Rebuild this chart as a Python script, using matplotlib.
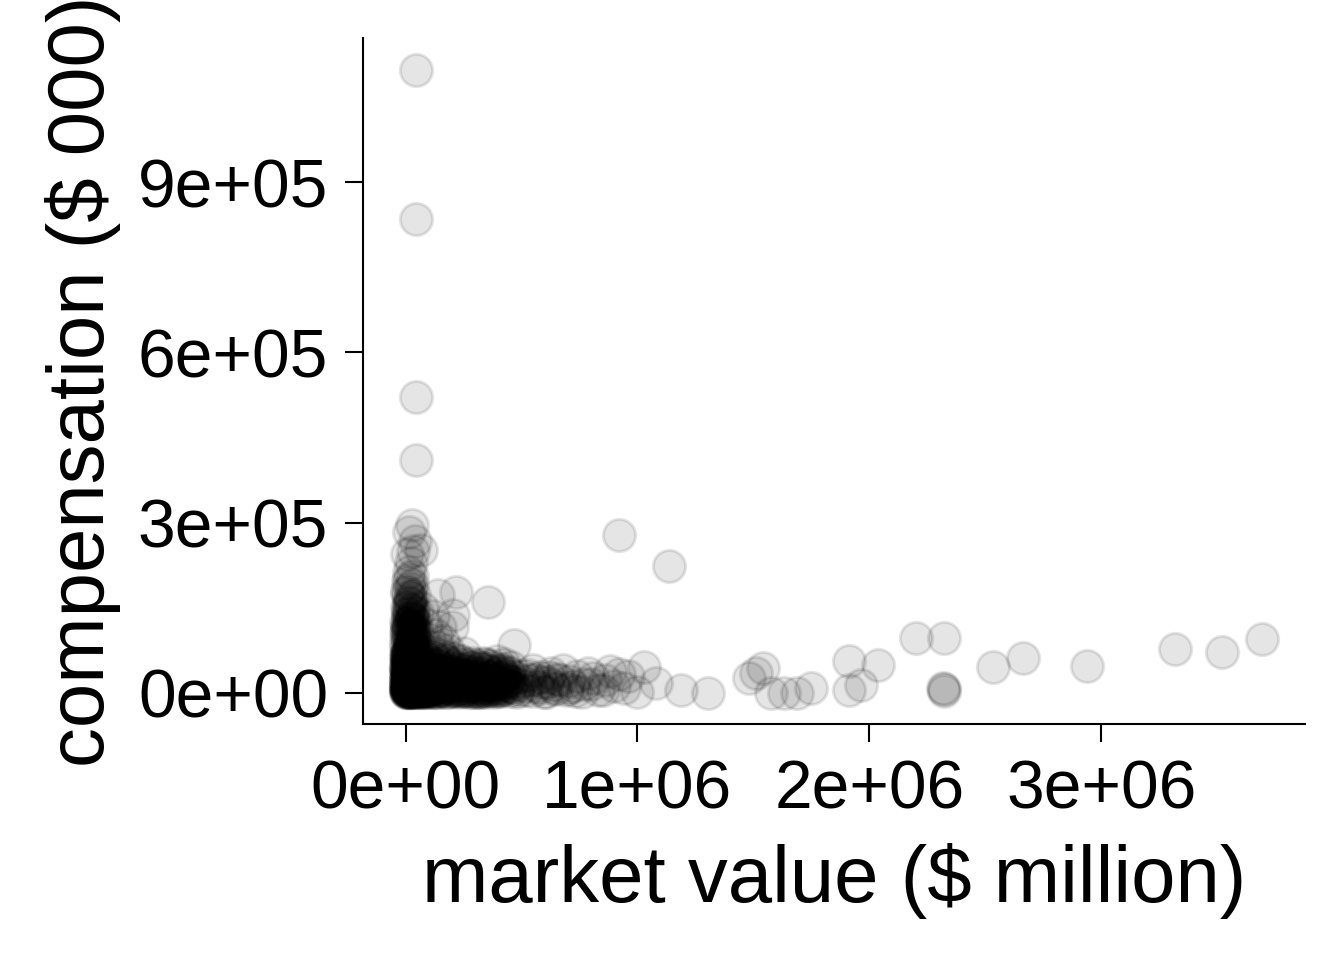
import matplotlib
matplotlib.use("Agg")
import matplotlib.pyplot as plt
from matplotlib.ticker import MultipleLocator, FuncFormatter

plt.rcParams['font.family'] = ['Liberation Sans', 'DejaVu Sans']

# market value ($ million), compensation ($ 000)
# dense core near the origin
mv_core = [2000, 5000, 8000, 12000, 3000, 15000, 20000, 25000, 6000, 10000,
           30000, 35000, 40000, 18000, 4000, 45000, 50000, 28000, 55000, 60000,
           9000, 22000, 65000, 70000, 38000, 75000, 14000, 80000, 48000, 85000,
           3000, 90000, 32000, 58000, 95000, 17000, 68000, 42000, 7000, 100000,
           1000, 4000, 11000, 16000, 7000, 23000, 2000, 27000, 13000, 33000,
           19000, 44000, 36000, 9000, 52000, 24000, 62000, 47000, 12000, 73000,
           29000, 5000, 57000, 82000, 39000, 21000, 66000, 88000, 51000, 26000,
           3500, 14000, 31000, 10000, 6000, 18000, 43000, 77000, 92000, 2500]
comp_core = [1500, 4000, 2500, 6000, 9000, 12000, 3000, 8000, 15000, 20000,
             14000, 5000, 18000, 25000, 28000, 9000, 22000, 30000, 4000, 15000,
             35000, 38000, 28000, 7000, 33000, 19000, 42000, 32000, 40000, 11000,
             48000, 25000, 45000, 36000, 38000, 52000, 44000, 55000, 58000, 6000,
             500, 2000, 1000, 3500, 7000, 1500, 12000, 17000, 9000, 2000,
             16000, 3000, 24000, 23000, 12000, 21000, 2500, 30000, 31000, 13000,
             27000, 38000, 20000, 4000, 10000, 46000, 35000, 17000, 48000, 34000,
             20000, 14000, 6500, 4500, 600, 8000, 26000, 24000, 31000, 64000]

mv_core2 = [1500, 6500, 11500, 16500, 21500, 26500, 31500, 36500, 41500, 46500,
            51500, 56500, 61500, 66500, 71500, 76500, 81500, 86500, 91500, 96500,
            4500, 9500, 14500, 19500, 24500, 29500, 34500, 39500, 44500, 49500,
            54500, 59500, 64500, 69500, 74500, 79500, 84500, 89500, 94500, 99500,
            104000, 112000, 121000, 129000, 137000, 146000, 2500, 7500, 12500, 17500,
            22500, 27500, 32500, 37500, 42500, 47500, 52500, 57500, 62500, 67500,
            72500, 77500, 82500, 87500, 97500, 107000, 117000, 127000, 1000, 3000,
            5500, 8500, 13500, 18500, 23500, 28500, 33500, 38500, 43500, 48500,
            53500, 58500, 63500, 68500, 73500, 78500, 83500, 88500, 93500, 98500,
            102000, 114000, 126000, 133000, 141000, 149000, 6000, 16000, 26000, 36000]
comp_core2 = [22000, 5000, 41000, 13000, 30000, 2000, 48000, 19000, 8000, 36000,
              26000, 1000, 44000, 15000, 33000, 6000, 21000, 40000, 11000, 28000,
              60000, 33000, 3000, 50000, 17000, 7000, 39000, 24000, 52000, 12000,
              35000, 4000, 23000, 46000, 10000, 29000, 2500, 37000, 18000, 5500,
              24000, 9000, 31000, 16000, 40000, 4000, 35000, 26000, 57000, 44000,
              9000, 53000, 32000, 3500, 41000, 20000, 6000, 46000, 14000, 25000,
              38000, 1500, 27000, 8000, 45000, 30000, 20000, 12000, 42000, 16000,
              3000, 51000, 27000, 12000, 5000, 43000, 19000, 9500, 34000, 1500,
              17000, 39000, 8500, 29000, 3000, 20000, 42000, 14000, 24000, 10000,
              36000, 2000, 21000, 9000, 28000, 12000, 69000, 58000, 62000, 56000]

mv_core3 = [3000, 9000, 15000, 21000, 27000, 33000, 39000, 45000, 51000, 57000,
            63000, 69000, 75000, 81000, 87000, 93000, 99000, 106000, 113000, 121000,
            128000, 136000, 143000, 151000, 158000, 166000, 173000, 181000, 188000, 196000,
            203000, 211000, 218000, 226000, 233000, 241000, 248000, 256000, 263000, 271000,
            278000, 286000, 293000, 301000, 308000, 316000, 323000, 331000, 338000, 346000,
            353000, 361000, 368000, 376000, 383000, 391000, 398000, 406000, 413000, 420000,
            1000, 7000, 13000, 19000, 25000, 31000, 37000, 43000, 49000, 55000,
            61000, 67000, 73000, 79000, 85000, 91000, 97000, 103000, 109000, 116000,
            124000, 132000, 140000, 148000, 156000, 164000, 172000, 190000, 208000, 226000,
            244000, 262000, 280000, 298000, 316000, 334000, 352000, 370000, 388000, 406000]
comp_core3 = [8000, 18000, 3000, 27000, 12000, 36000, 6000, 22000, 15000, 1000,
              31000, 10000, 40000, 4000, 25000, 14000, 33000, 7000, 20000, 2000,
              29000, 11000, 38000, 5000, 24000, 16000, 1500, 32000, 9000, 21000,
              3500, 27000, 13000, 35000, 6500, 18000, 2500, 30000, 10500, 23000,
              4500, 14500, 28000, 7500, 19000, 1000, 25000, 11000, 3000, 16000,
              22000, 6000, 29000, 12000, 2000, 18000, 8000, 24000, 4000, 13000,
              45000, 38000, 55000, 47000, 41000, 50000, 43000, 36000, 49000, 42000,
              3000, 7000, 1500, 5000, 2000, 6000, 1000, 4000, 2500, 8000,
              44000, 18000, 9000, 28000, 3000, 15000, 22000, 6000, 12000, 1500,
              20000, 5000, 16000, 2000, 9000, 21000, 4000, 14000, 7000, 2500]

mv_core4 = [500, 2500, 4500, 6500, 8500, 10500, 12500, 14500, 16500, 18500,
            20500, 22500, 24500, 26500, 28500, 30500, 32500, 34500, 36500, 38500,
            40500, 42500, 44500, 46500, 48500, 50500, 52500, 54500, 56500, 58500,
            1200, 3700, 6200, 8700, 11200, 13700, 16200, 18700, 21200, 23700,
            26200, 28700, 31200, 33700, 36200, 38700, 41200, 43700, 46200, 48700,
            800, 5300, 9800, 14300, 18800, 23300, 27800, 32300, 36800, 41300]
comp_core4 = [3000, 11000, 19000, 27000, 35000, 6000, 14000, 22000, 30000, 38000,
              2000, 10000, 18000, 26000, 34000, 5000, 13000, 21000, 29000, 37000,
              1000, 9000, 17000, 25000, 33000, 4000, 12000, 20000, 28000, 36000,
              24000, 32000, 40000, 7000, 15000, 23000, 31000, 39000, 8000, 16000,
              1500, 6500, 11500, 16500, 21500, 26500, 31500, 36500, 2500, 7500,
              45000, 52000, 48000, 55000, 42000, 50000, 46000, 44000, 53000, 41000]

mv_core5 = [85000, 95000, 105000, 115000, 125000, 135000, 145000, 155000, 165000, 175000,
            185000, 195000, 205000, 215000, 225000, 235000, 245000, 255000, 265000, 275000,
            285000, 295000, 305000, 315000, 325000, 335000, 345000, 355000, 365000, 375000,
            385000, 395000, 405000, 415000, 425000, 435000, 445000, 455000, 90000, 110000,
            130000, 150000, 170000, 190000, 210000, 230000, 250000, 270000, 290000, 310000,
            330000, 350000, 370000, 390000, 410000, 430000, 450000, 100000, 140000, 180000,
            220000, 260000, 300000, 340000, 380000, 420000, 120000, 160000, 200000, 240000,
            280000, 320000, 360000, 400000, 440000, 113000, 167000, 233000, 287000, 343000]
comp_core5 = [42000, 18000, 55000, 6000, 30000, 48000, 2000, 38000, 14000, 58000,
              24000, 44000, 8000, 34000, 52000, 16000, 41000, 3000, 27000, 46000,
              11000, 36000, 20000, 43000, 5000, 31000, 15000, 38000, 23000, 4000,
              33000, 17000, 40000, 9000, 28000, 19000, 35000, 12000, 62000, 47000,
              26000, 54000, 10000, 50000, 30000, 58000, 22000, 40000, 33000, 48000,
              7000, 26000, 45000, 13000, 36000, 25000, 10000, 32000, 15000, 40000,
              4000, 50000, 14000, 43000, 21000, 30000, 8000, 22000, 36000, 28000,
              45000, 2000, 10000, 37000, 20000, 65000, 60000, 55000, 52000, 50000]

# mid-size firms
mv_mid = [105000, 110000, 115000, 120000, 125000, 130000, 135000, 140000, 145000, 150000,
          155000, 160000, 165000, 170000, 175000, 180000, 185000, 190000, 195000, 200000,
          205000, 210000, 215000, 220000, 225000, 230000, 235000, 240000, 245000, 250000,
          255000, 260000, 265000, 270000, 275000, 280000, 285000, 290000, 295000, 300000,
          108000, 122000, 138000, 152000, 168000, 182000, 198000, 212000, 228000, 242000,
          258000, 272000, 288000, 118000, 142000,
          305000, 312000, 318000, 325000, 332000, 340000, 347000, 355000, 362000, 370000,
          377000, 385000, 392000, 400000, 408000, 415000, 423000, 430000, 438000, 445000,
          452000, 460000, 468000, 475000, 482000, 320000, 350000, 380000, 410000, 440000,
          335000, 365000, 395000, 425000, 455000]
comp_mid = [15000, 3000, 28000, 9000, 40000, 18000, 2000, 33000, 12000, 25000,
            5000, 44000, 20000, 8000, 30000, 14000, 1500, 37000, 22000, 10000,
            47000, 4000, 27000, 16000, 34000, 7000, 21000, 2500, 39000, 13000,
            26000, 6000, 31000, 18000, 1000, 36000, 11000, 23000, 4500, 29000,
            52000, 36000, 22000, 6500, 35000, 26000, 3500, 19000, 42000, 9500,
            17000, 28000, 2000, 11000, 49000,
            12000, 3000, 24000, 35000, 8000, 18000, 1500, 28000, 14000, 5000,
            38000, 20000, 10000, 2500, 26000, 16000, 6000, 32000, 13000, 22000,
            3500, 18000, 9000, 27000, 1000, 44000, 40000, 30000, 42000, 36000,
            52000, 48000, 55000, 50000, 45000]

# tall column of small firms with high pay
mv_column = [5000, 12000, 20000, 30000, 8000, 40000, 15000, 25000, 3000, 35000,
             50000, 10000, 22000, 45000, 6000, 30000, 16000, 55000, 2000, 26000,
             12000, 40000, 20000, 5000, 33000, 14000, 24000, 8000, 36000, 18000,
             10000, 28000, 15000, 22000, 8000, 30000, 13000, 29000, 65000, 40000,
             4000, 18000, 60000, 9000, 48000,
             3000, 9000, 15000, 21000, 27000, 33000, 39000, 6000, 12000, 18000,
             24000, 30000, 36000, 2000, 8000, 14000, 20000, 26000, 32000, 11000,
             17000, 23000, 5000, 29000, 14000,
             4000, 10000, 16000, 22000, 28000, 34000, 7000, 13000, 19000, 25000,
             31000, 37000, 1000, 43000, 9000, 21000, 33000, 15000, 27000, 6000]
comp_column = [62000, 66000, 70000, 63000, 75000, 68000, 80000, 84000, 88000, 78000,
               74000, 95000, 100000, 90000, 108000, 112000, 118000, 105000, 125000, 130000,
               138000, 125000, 145000, 152000, 148000, 160000, 168000, 175000, 172000, 185000,
               195000, 205000, 212000, 228000, 245000, 250000, 284000, 296000, 252000, 268000,
               70000, 92000, 82000, 132000, 140000,
               65000, 72000, 79000, 86000, 93000, 100000, 107000, 114000, 121000, 128000,
               135000, 142000, 96000, 103000, 110000, 117000, 124000, 131000, 85000, 150000,
               158000, 165000, 180000, 115000, 200000,
               60000, 68000, 76000, 84000, 92000, 70000, 98000, 106000, 88000, 112000,
               120000, 96000, 82000, 78000, 140000, 155000, 130000, 170000, 190000, 122000]

# halo above the core
mv_halo = [65000, 80000, 95000, 110000, 125000, 140000, 155000, 170000, 185000, 200000,
           75000, 100000, 130000, 160000, 90000, 120000, 150000, 70000, 138000, 216000,
           203000, 200000, 354000, 466000, 250000]
comp_halo = [58000, 65000, 52000, 72000, 60000, 80000, 66000, 55000, 75000, 62000,
             88000, 95000, 102000, 92000, 120000, 135000, 115000, 150000, 173000, 178000,
             137600, 116000, 160500, 84700, 70000]

# tail along the x axis
mv_tail = [490000, 505000, 520000, 535000, 550000, 565000, 580000, 595000, 610000, 625000,
           640000, 655000, 678000, 690000, 705000, 720000, 740000, 760000, 785000, 800000,
           830000, 860000, 919000, 940000, 1027000, 1079000, 1000000, 1187000, 1303000, 880000,
           485000, 500000, 515000, 530000, 545000, 560000, 575000, 590000, 605000, 620000,
           635000, 650000, 665000, 700000, 730000, 770000, 810000, 850000, 900000, 960000]
comp_tail = [15000, 30000, 5000, 22000, 40000, 12000, 28000, 2000, 18000, 35000,
             8000, 25000, 40600, 4000, 20000, 12000, 30000, 1500, 35300, 15000,
             5000, 22000, 33000, 8000, 45900, 17600, 2000, 5300, 0, 38000,
             5000, 20000, 12000, 32000, 3000, 24000, 8000, 18000, 2000, 28000,
             14000, 6000, 22000, 9000, 3000, 16000, 26000, 4000, 12000, 30000]

# isolated outliers
mv_outlier = [47000, 47000, 47000, 47000, 919000, 1135000,
              1480000, 1510000, 1540000, 1575000, 1630000, 1690000, 1750000,
              1912000, 2037000, 1912000, 1964000, 2201000, 2322000, 2318000,
              2322000, 2320000, 2533000, 2663000, 2939000, 3319000, 3522000, 3694000]
comp_outlier = [1099000, 834700, 522300, 411000, 278800, 224000,
                26500, 35000, 44000, 0, 0, 0, 9000,
                55000, 49000, 5000, 14000, 97000, 97000, 9000,
                3000, 6000, 46000, 62000, 47600, 77600, 72300, 95300]

market_value = (mv_core + mv_core2 + mv_core3 + mv_core4 + mv_core5 + mv_mid
                + mv_column + mv_halo + mv_tail + mv_outlier)
compensation = (comp_core + comp_core2 + comp_core3 + comp_core4 + comp_core5 + comp_mid
                + comp_column + comp_halo + comp_tail + comp_outlier)

fig = plt.figure(figsize=(6.72, 4.8), dpi=200)
ax = fig.add_axes([0.270, 0.246, 0.701, 0.714])

ax.scatter(market_value, compensation, s=135, c='black', alpha=0.1,
           linewidths=1.1, edgecolors='black')

ax.xaxis.set_major_locator(MultipleLocator(1e6))
ax.yaxis.set_major_locator(MultipleLocator(3e5))
sci = FuncFormatter(lambda v, p: '%.0e' % v)
ax.xaxis.set_major_formatter(sci)
ax.yaxis.set_major_formatter(sci)

for side in ['top', 'right']:
    ax.spines[side].set_visible(False)
for side in ['left', 'bottom']:
    ax.spines[side].set_linewidth(0.75)
ax.tick_params(labelsize=24.4, length=6.5, width=0.75, pad=6)

ax.set_xlabel('market value ($ million)', fontsize=28.7, labelpad=7.5)
ax.set_ylabel('compensation ($ 000)', fontsize=28.7, labelpad=6)

fig.savefig('out.png', dpi=200)
